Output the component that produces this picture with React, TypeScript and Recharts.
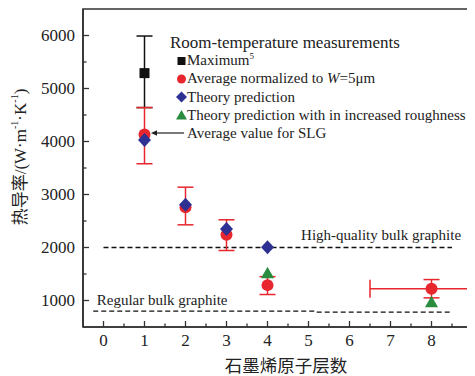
import {
  ScatterChart,
  Scatter,
  XAxis,
  YAxis,
  ErrorBar,
  ReferenceLine,
  ReferenceArea,
  ReferenceDot,
  Legend,
} from 'recharts';

// Thermal conductivity vs. number of graphene layers

const maxLayers = [1];
const maxValues = [5290];
const maxErr = [[650, 700]];

const avgLayers = [1, 2, 3, 4, 8];
const avgValues = [4130, 2760, 2240, 1290, 1220];
const avgErrY = [[550, 510], [332, 378], [297, 283], [177, 160], [170, 175]];
const avgErrX = [null, null, null, null, 1.5];

const theoryLayers = [1, 2, 3, 4];
const theoryValues = [4030, 2805, 2350, 2005];

const roughLayers = [4, 8];
const roughValues = [1515, 968];

const xTicks = [0, 0.5, 1, 1.5, 2, 2.5, 3, 3.5, 4, 4.5, 5, 5.5, 6, 6.5, 7, 7.5, 8, 8.5, 9];
const yTicks = [1000, 1500, 2000, 2500, 3000, 3500, 4000, 4500, 5000, 5500, 6000];

const SERIF = '"Liberation Serif", "Times New Roman", "Noto Sans CJK SC", serif';
const INK = '#222';
const AXIS = '#333';
const RED = '#e8262d';
const BLUE = '#2e3192';
const GREEN = '#2a8c3f';
const BLACK = '#111';

const Y_MARGIN = 8;
const X_MARGIN = 7;

const maxData = maxLayers.map((x, i) => ({ x, y: maxValues[i], ey: maxErr[i] }));
const avgData = avgLayers.map((x, i) => ({ x, y: avgValues[i], ey: avgErrY[i], ex: avgErrX[i] }));
const theoryData = theoryLayers.map((x, i) => ({ x, y: theoryValues[i] }));
const roughData = roughLayers.map((x, i) => ({ x, y: roughValues[i] }));

const Square = ({ cx, cy }: any) => <rect x={cx - 5} y={cy - 5} width={10} height={10} fill={BLACK} />;
const Circle = ({ cx, cy }: any) => <circle cx={cx} cy={cy} r={6} fill={RED} />;
const Diamond = ({ cx, cy }: any) => (
  <polygon points={`${cx},${cy - 7} ${cx + 6.5},${cy} ${cx},${cy + 7} ${cx - 6.5},${cy}`} fill={BLUE} />
);
const Triangle = ({ cx, cy }: any) => (
  <polygon points={`${cx},${cy - 6.5} ${cx + 6.5},${cy + 5} ${cx - 6.5},${cy + 5}`} fill={GREEN} />
);

const YTick = ({ x, y, payload }: any) => {
  const v = payload.value;
  const major = v % 1000 === 0;
  const ax = x + Y_MARGIN;
  return (
    <g>
      <line x1={ax} x2={ax + (major ? 6 : 3.5)} y1={y} y2={y} stroke={AXIS} strokeWidth={1.3} />
      {major && (
        <text x={x} y={y} dy="0.35em" textAnchor="end" fontSize={17} fontFamily={SERIF} fill={INK}>
          {v}
        </text>
      )}
    </g>
  );
};

const XTick = ({ x, y, payload }: any) => {
  const v = payload.value;
  const major = Number.isInteger(v);
  const ay = y - X_MARGIN;
  return (
    <g>
      <line x1={x} x2={x} y1={ay} y2={ay - (major ? 6 : 3.5)} stroke={AXIS} strokeWidth={1.3} />
      {major && (
        <text x={x} y={y} dy={12} textAnchor="middle" fontSize={17} fontFamily={SERIF} fill={INK}>
          {v}
        </text>
      )}
    </g>
  );
};

const YLabel = ({ viewBox }: any) => {
  const cx = viewBox.x + 12;
  const cy = viewBox.y + viewBox.height / 2 - 11;
  return (
    <text
      x={cx}
      y={cy}
      transform={`rotate(-90 ${cx} ${cy})`}
      textAnchor="middle"
      dominantBaseline="central"
      fontSize={17}
      fontFamily={SERIF}
      fill={INK}
    >
      热导率/(W·m
      <tspan fontSize={10} dy={-6}>-1</tspan>
      <tspan dy={6}>·K</tspan>
      <tspan fontSize={10} dy={-6}>-1</tspan>
      <tspan dy={6}>)</tspan>
    </text>
  );
};

const Icon = ({ kind }: { kind: string }) => (
  <svg width={13} height={13} style={{ display: 'block' }}>
    {kind === 'square' && <rect x={2.5} y={3} width={8} height={8} fill={BLACK} />}
    {kind === 'circle' && <circle cx={6.5} cy={7} r={4.5} fill={RED} />}
    {kind === 'diamond' && <polygon points="6.5,1.5 12,7 6.5,12.5 1,7" fill={BLUE} />}
    {kind === 'triangle' && <polygon points="6.5,2 12,11.5 1,11.5" fill={GREEN} />}
  </svg>
);

const legendRows = [
  { kind: 'square', text: <>Maximum<sup style={{ fontSize: 9, verticalAlign: 6, lineHeight: 0 }}>5</sup></> },
  { kind: 'circle', text: <>Average normalized to <i>W</i>=5μm</> },
  { kind: 'diamond', text: <>Theory prediction</> },
  { kind: 'triangle', text: <>Theory prediction with in increased roughness</> },
];

const LegendBox = () => (
  <div style={{ position: 'relative', width: 480, height: 140, fontFamily: SERIF, color: INK }}>
    <div style={{ position: 'absolute', left: 162, top: 24.5, fontSize: 17, lineHeight: '20px', whiteSpace: 'nowrap' }}>
      Room-temperature measurements
    </div>
    {legendRows.map((row, i) => (
      <div
        key={i}
        style={{ position: 'absolute', left: 167, top: 52 - 9 + i * 18.3, height: 18, display: 'flex', alignItems: 'center', whiteSpace: 'nowrap' }}
      >
        <Icon kind={row.kind} />
        <span style={{ fontSize: 15, lineHeight: '18px', marginLeft: -1 }}>{row.text}</span>
      </div>
    ))}
    <svg width={36} height={10} style={{ position: 'absolute', left: 142, top: 120.3 }}>
      <line x1={5} y1={5} x2={34} y2={5} stroke={INK} strokeWidth={1.2} />
      <polygon points="1,5 7,2.2 7,7.8" fill={INK} />
    </svg>
    <div style={{ position: 'absolute', left: 179, top: 125.3 - 9, fontSize: 15, lineHeight: '18px', whiteSpace: 'nowrap' }}>
      Average value for SLG
    </div>
  </div>
);

export default function App() {
  return (
    <div style={{ width: 467, height: 368, overflow: 'hidden' }}>
      <ScatterChart width={495} height={368} margin={{ top: 1, right: 10, bottom: 0, left: 0 }}>
        <XAxis
          type="number"
          dataKey="x"
          domain={[-0.5, 9.5]}
          allowDataOverflow
          ticks={xTicks}
          interval={0}
          tickSize={0}
          tickMargin={X_MARGIN}
          tickLine={false}
          tick={<XTick />}
          height={49}
          axisLine={{ stroke: AXIS, strokeWidth: 1.6 }}
          label={{ value: '石墨烯原子层数', position: 'insideBottom', offset: 4, dx: -2, fontSize: 17.5, fontFamily: SERIF, fill: INK }}
        />
        <YAxis
          type="number"
          dataKey="y"
          domain={[500, 6500]}
          allowDataOverflow
          ticks={yTicks}
          interval={0}
          tickSize={0}
          tickMargin={Y_MARGIN}
          tickLine={false}
          tick={<YTick />}
          width={75}
          axisLine={{ stroke: AXIS, strokeWidth: 1.6 }}
          label={{ content: <YLabel /> }}
        />
        <ReferenceArea x1={-0.5} x2={9.5} y1={500} y2={6500} fill="none" fillOpacity={0} stroke={AXIS} strokeWidth={1.6} />
        <ReferenceLine segment={[{ x: 0, y: 2000 }, { x: 8.5, y: 2000 }]} stroke={BLACK} strokeWidth={1.3} strokeDasharray="5 3" />
        <ReferenceLine segment={[{ x: -0.25, y: 800 }, { x: 5.2, y: 800 }]} stroke={BLACK} strokeWidth={1.3} strokeDasharray="5 3" />
        <ReferenceLine segment={[{ x: 5.2, y: 780 }, { x: 8.5, y: 780 }]} stroke={BLACK} strokeWidth={1.3} strokeDasharray="5 3" />
        <ReferenceDot
          x={6.77}
          y={2236}
          r={0}
          stroke="none"
          label={{ value: 'High-quality bulk graphite', position: 'center', fontSize: 15, fontFamily: SERIF, fill: INK }}
        />
        <ReferenceDot
          x={1.43}
          y={1013}
          r={0}
          stroke="none"
          label={{ value: 'Regular bulk graphite', position: 'center', fontSize: 15, fontFamily: SERIF, fill: INK }}
        />
        <Scatter data={maxData} shape={<Square />} isAnimationActive={false}>
          <ErrorBar dataKey="ey" direction="y" width={8} stroke={BLACK} strokeWidth={1.5} />
        </Scatter>
        <Scatter data={avgData} shape={<Circle />} isAnimationActive={false}>
          <ErrorBar dataKey="ey" direction="y" width={8} stroke={RED} strokeWidth={1.5} />
          <ErrorBar dataKey="ex" direction="x" width={9} stroke={RED} strokeWidth={1.5} />
        </Scatter>
        <Scatter data={roughData} shape={<Triangle />} isAnimationActive={false} />
        <Scatter data={theoryData} shape={<Diamond />} isAnimationActive={false} />
        <Legend
          layout="horizontal"
          verticalAlign="middle"
          align="center"
          content={<LegendBox />}
          wrapperStyle={{ position: 'absolute', left: 0, top: 0, width: 480, height: 140 }}
        />
      </ScatterChart>
    </div>
  );
}
